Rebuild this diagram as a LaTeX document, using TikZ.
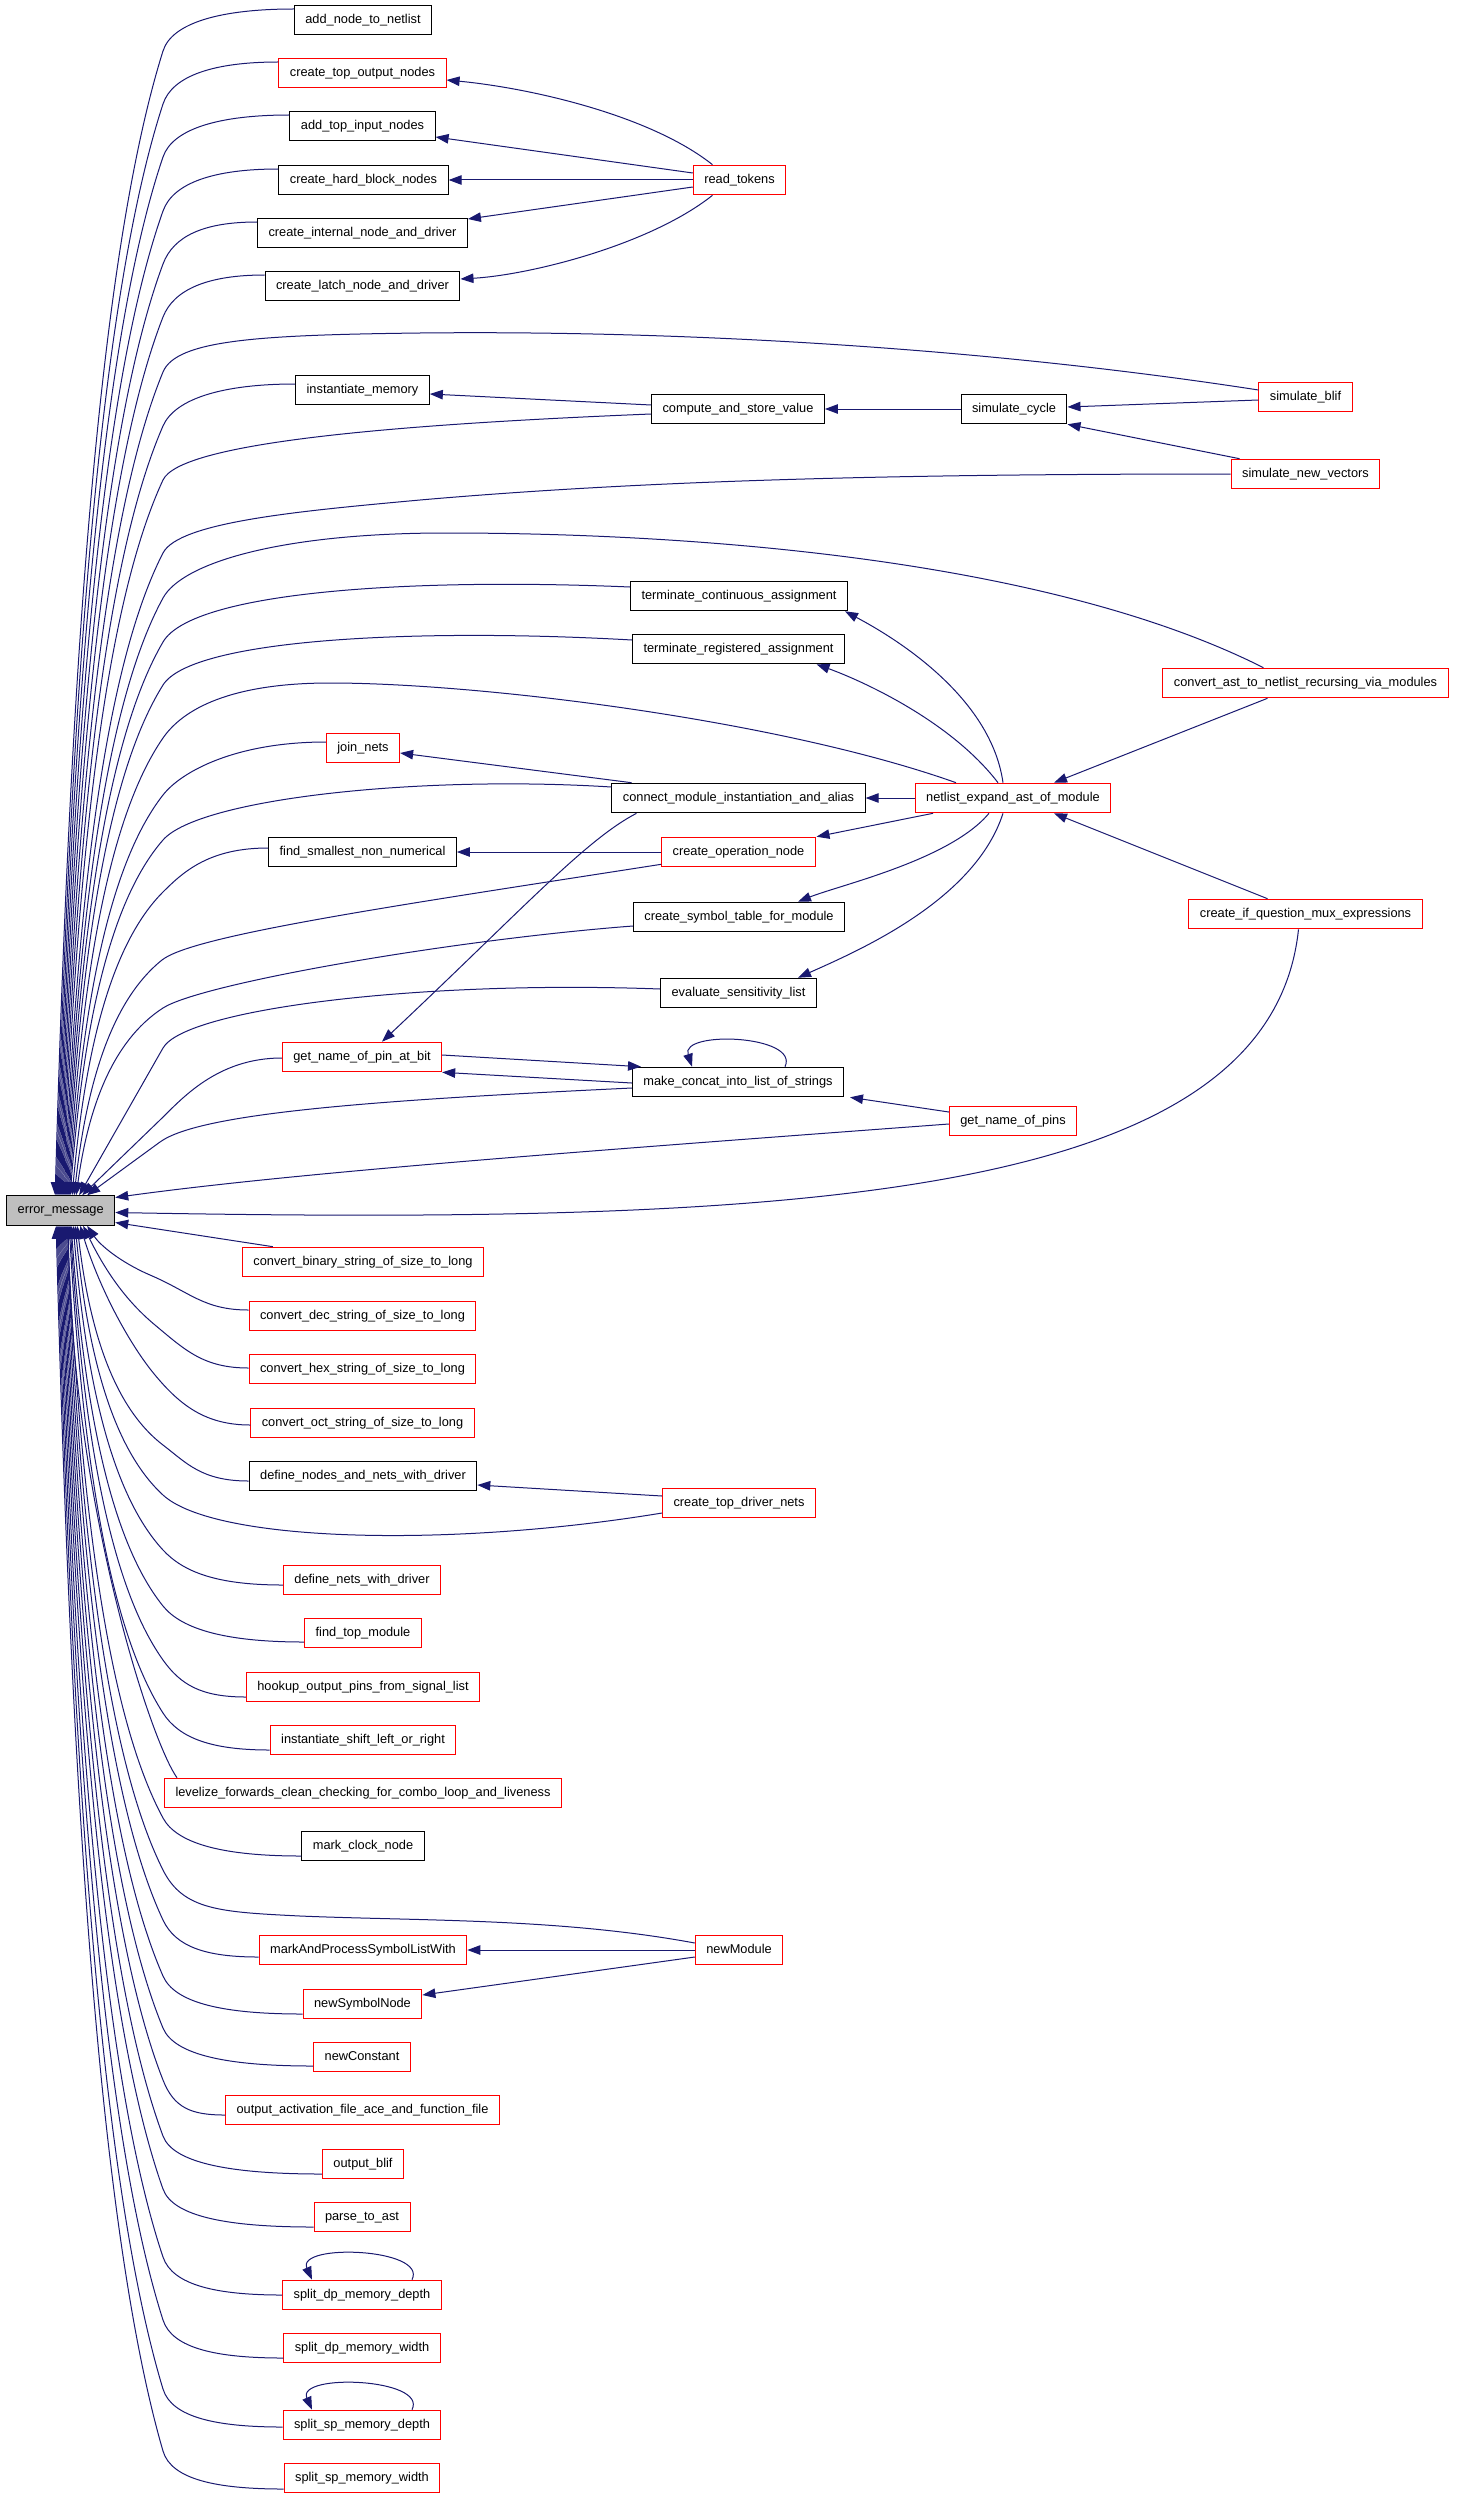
\documentclass[tikz,border=0pt]{standalone}
\usepackage{fontspec}
\setmainfont{Liberation Sans}
\usetikzlibrary{arrows.meta,calc}
\definecolor{eblue}{HTML}{191970}
\definecolor{errgray}{HTML}{BFBFBF}
% straight tail
\newcommand\ee[4]{\draw[edge] (#1) .. controls +(#2,0) and ($(#3)!-30pt!(#4)$) .. (#3) -- (#4);}
% concave tail helpers
\newcommand\prep[3]{%
  \coordinate (qB) at (#1);
  \coordinate (qE) at (#2);
  \coordinate (qM) at ($(qB)!0.3!(qE)$);
  \coordinate (qQ) at (qM -| qE);
  \coordinate (qC2) at ($(qB)!-#3!(qQ)$);
  \coordinate (qC3) at ($(qB)!0.6!(qQ)$);
  \coordinate (qX) at ($(qE |- qB)!0.3!(qB)$);
  \coordinate (qC4) at ($(qE)!0.45!(qX)$);
}
\newcommand\ef[4]{\prep{#3}{#4}{30pt}\draw[edge] (#1) .. controls +(#2,0) and (qC2) .. (qB) .. controls (qC3) and (qC4) .. (qE);}
\begin{document}
\begin{tikzpicture}[x=1pt,y=-1pt,
  fn/.style={draw=black, line width=1pt, fill=white, minimum height=29.6pt, inner xsep=11pt, inner ysep=0pt,
    font=\fontsize{12.8}{14}\selectfont, text height=9.4pt, text depth=2.6pt},
  rn/.style={fn, draw=red},
  edge/.style={draw=eblue, line width=1pt, -{Triangle[length=13pt,width=9.5pt]}},
]
\fill[white] (0,0) rectangle (1456,2499);
\useasboundingbox (0,0) rectangle (1456,2499);

% ---- nodes ----
\node[fn] (n1) at (363,20) {add\_node\_to\_netlist};
\node[rn] (n2) at (362.5,73) {create\_top\_output\_nodes};
\node[fn] (n3) at (362.5,126) {add\_top\_input\_nodes};
\node[fn] (n4) at (363.5,180) {create\_hard\_block\_nodes};
\node[fn] (n5) at (362.5,233) {create\_internal\_node\_and\_driver};
\node[fn] (n6) at (362.5,286) {create\_latch\_node\_and\_driver};
\node[fn] (n7) at (362.5,390) {instantiate\_memory};
\node[rn] (rt) at (739.5,180) {read\_tokens};
\node[fn] (cs) at (738,409) {compute\_and\_store\_value};
\node[fn] (sc) at (1014,409) {simulate\_cycle};
\node[rn] (sb) at (1305.5,397) {simulate\_blif};
\node[rn] (snv) at (1305.5,474) {simulate\_new\_vectors};
\node[fn] (tc) at (739,596) {terminate\_continuous\_assignment};
\node[fn] (tr) at (738.5,649) {terminate\_registered\_assignment};
\node[rn] (ca) at (1305.5,683) {convert\_ast\_to\_netlist\_recursing\_via\_modules};
\node[rn] (jn) at (363,748) {join\_nets};
\node[fn] (cm) at (738.5,798) {connect\_module\_instantiation\_and\_alias};
\node[rn] (ne) at (1013,798) {netlist\_expand\_ast\_of\_module};
\node[fn] (fs) at (362.5,852) {find\_smallest\_non\_numerical};
\node[rn] (co) at (738.5,852) {create\_operation\_node};
\node[fn] (cst) at (739,917) {create\_symbol\_table\_for\_module};
\node[rn] (ci) at (1305.5,914) {create\_if\_question\_mux\_expressions};
\node[fn] (ev) at (738.5,993) {evaluate\_sensitivity\_list};
\node[rn] (gp) at (362,1057) {get\_name\_of\_pin\_at\_bit};
\node[fn] (mc) at (738,1082) {make\_concat\_into\_list\_of\_strings};
\node[rn] (gnp) at (1013,1121) {get\_name\_of\_pins};
\node[fn, fill=errgray, minimum width=108pt] (err) at (60.7,1210.5) {error\_message};
\node[rn] (cb) at (363,1262) {convert\_binary\_string\_of\_size\_to\_long};
\node[rn] (cd) at (362.5,1316) {convert\_dec\_string\_of\_size\_to\_long};
\node[rn] (ch) at (362.5,1369) {convert\_hex\_string\_of\_size\_to\_long};
\node[rn] (cx) at (362.5,1423) {convert\_oct\_string\_of\_size\_to\_long};
\node[fn] (dn) at (363,1476) {define\_nodes\_and\_nets\_with\_driver};
\node[rn] (ctd) at (739,1503) {create\_top\_driver\_nets};
\node[rn] (dnw) at (362,1580) {define\_nets\_with\_driver};
\node[rn] (ft) at (363,1633) {find\_top\_module};
\node[rn] (hk) at (363,1687) {hookup\_output\_pins\_from\_signal\_list};
\node[rn] (is) at (363,1740) {instantiate\_shift\_left\_or\_right};
\node[rn] (lv) at (363,1793) {levelize\_forwards\_clean\_checking\_for\_combo\_loop\_and\_liveness};
\node[fn] (mk) at (363,1846) {mark\_clock\_node};
\node[rn] (mp) at (363,1950) {markAndProcessSymbolListWith};
\node[rn] (nm) at (739,1950) {newModule};
\node[rn] (ns) at (362.5,2004) {newSymbolNode};
\node[rn] (nc) at (362,2057) {newConstant};
\node[rn] (oa) at (362.5,2110) {output\_activation\_file\_ace\_and\_function\_file};
\node[rn] (ob) at (363,2164) {output\_blif};
\node[rn] (pa) at (362,2217) {parse\_to\_ast};
\node[rn] (sdd) at (362,2295) {split\_dp\_memory\_depth};
\node[rn] (sdw) at (362,2348) {split\_dp\_memory\_width};
\node[rn] (ssd) at (362,2425) {split\_sp\_memory\_depth};
\node[rn] (ssw) at (362,2478) {split\_sp\_memory\_width};

% ---- entry points on error_message ----
\foreach \i/\dx in {1/49,2/50,3/51,4/52,5/53,6/54,7/55,8/56,9/57,10/58,11/59,12/60,13/61,14/62,15/63,16/64,17/66,18/68,19/70,20/73,21/76,22/81}
  \coordinate (t\i) at ([xshift=\dx pt]err.north west);
\foreach \i/\dx in {1/81,2/77,3/74,4/71,5/69,6/67,7/65,8/64,9/63,10/62,11/61,12/60,13/59,14/58,15/57,16/56,17/55,18/54,19/53,20/52,21/51,22/50}
  \coordinate (b\i) at ([xshift=\dx pt]err.south west);
\coordinate (r1) at ([yshift=13pt]err.east);
\coordinate (r2) at ([yshift=-2pt]err.east);
\coordinate (r3) at ([yshift=-12pt]err.east);

% ---- edges into error_message from above ----
\ef{[yshift=11pt]n1.west}{-72}{163,51}{t1}
\ef{[yshift=11pt]n2.west}{-64}{163,104}{t2}
\ef{[yshift=11pt]n3.west}{-70}{163,157}{t3}
\ef{[yshift=11pt]n4.west}{-64}{163,211}{t4}
\ef{[yshift=11pt]n5.west}{-53}{163,264}{t5}
\ef{[yshift=11pt]n6.west}{-56}{163,317}{t6}
\prep{163,372}{t7}{35pt}
\draw[edge] ([yshift=7pt]sb.west) .. controls (1000,350) and (700,330) .. (420,333) .. controls (260,335) and (qC2) .. (qB) .. controls (qC3) and (qC4) .. (qE);
\ef{[yshift=6pt]n7.west}{-72}{163,426}{t8}
\prep{163,480}{t9}{40pt}
\draw[edge] ([yshift=-5pt]cs.west) .. controls (380,425) and (qC2) .. (qB) .. controls (qC3) and (qC4) .. (qE);
\prep{163,553}{t10}{35pt}
\draw[edge] (snv.west) .. controls (900,474) and (650,480) .. (420,500) .. controls (300,511) and (qC2) .. (qB) .. controls (qC3) and (qC4) .. (qE);
\prep{163,598}{t11}{40pt}
\draw[edge] ([xshift=-42pt]ca.north) .. controls (1050,560) and (700,533) .. (446,533) .. controls (280,533) and (qC2) .. (qB) .. controls (qC3) and (qC4) .. (qE);
\prep{163,642}{t12}{60pt}
\draw[edge] ([yshift=9pt]tc.west) .. controls (420,578) and (qC2) .. (qB) .. controls (qC3) and (qC4) .. (qE);
\prep{163,685}{t13}{55pt}
\draw[edge] ([yshift=9pt]tr.west) .. controls (420,628) and (qC2) .. (qB) .. controls (qC3) and (qC4) .. (qE);
\prep{163,738}{t14}{35pt}
\draw[edge] ([xshift=-57pt]ne.north) .. controls (780,720) and (480,683) .. (330,683) .. controls (230,683) and (qC2) .. (qB) .. controls (qC3) and (qC4) .. (qE);
\ef{[yshift=6pt]jn.west}{-90}{163,795}{t15}
\prep{163,840}{t16}{55pt}
\draw[edge] ([yshift=11pt]cm.west) .. controls (420,775) and (qC2) .. (qB) .. controls (qC3) and (qC4) .. (qE);
\ef{[yshift=4pt]fs.west}{-58}{163,892}{t17}
\prep{162,960}{t18}{40pt}
\draw[edge] ([yshift=3pt]co.south west) .. controls (400,905) and (qC2) .. (qB) .. controls (qC3) and (qC4) .. (qE);
\prep{163,1008}{t19}{45pt}
\draw[edge] ([yshift=-9pt]cst.west) .. controls (450,940) and (qC2) .. (qB) .. controls (qC3) and (qC4) .. (qE);
\draw[edge] ([yshift=4pt]ev.west) .. controls (420,980) and ($(163,1048)!-45pt!(t20)$) .. (163,1048) -- (t20);
\ee{[yshift=-1pt]gp.west}{-65}{160,1120}{t21}
\draw[edge] ([yshift=-6pt]mc.west) .. controls (380,1100) and ($(160,1142)!-50pt!(t22)$) .. (160,1142) -- (t22);

% ---- edges into error_message from the right ----
\draw[edge] ([yshift=-3pt]gnp.west) .. controls (600,1150) and (300,1172) .. (r1);
\draw[edge] ([xshift=-7pt]ci.south) .. controls (1270,1200) and (800,1225) .. (r2);
\draw[edge] ([xshift=31pt]cb.north west) -- (r3);

% ---- edges into error_message from below ----
\draw[edge] ([yshift=6pt]cd.west) .. controls +(-45,0) and (190,1292) .. (150,1275) .. controls (120,1262) and (100,1245) .. (b1);
\draw[edge] ([yshift=1pt]ch.west) .. controls +(-45,0) and (185,1350) .. (155,1325) .. controls (125,1300) and (105,1270) .. (b2);
\draw[edge] ([yshift=-2pt]cx.west) .. controls +(-45,0) and (180,1405) .. (155,1375) .. controls (130,1345) and (100,1290) .. (b3);
\ef{[yshift=-5pt]dn.west}{-47}{163,1445}{b4}
\prep{163,1495}{b5}{70pt}
\draw[edge] ([yshift=-10pt]ctd.west) .. controls (450,1548) and (qC2) .. (qB) .. controls (qC3) and (qC4) .. (qE);
\ef{[yshift=-5pt]dnw.west}{-66}{163,1550}{b6}
\ef{[yshift=-9pt]ft.west}{-78}{163,1606}{b7}
\ef{[yshift=-10pt]hk.west}{-45}{163,1660}{b8}
\ef{[yshift=-10pt]is.west}{-58}{163,1713}{b9}
\draw[edge] ([xshift=13pt]lv.north west) .. controls (150,1740) and (72,1500) .. (b10);
\ef{[yshift=-10pt]mk.west}{-76}{163,1818}{b11}
\prep{163,1870}{b12}{45pt}
\draw[edge] ([yshift=7pt]nm.west) .. controls (560,1918) and (420,1921) .. (300,1916) .. controls (220,1912) and (qC2) .. (qB) .. controls (qC3) and (qC4) .. (qE);
\ef{[yshift=-7pt]mp.west}{-52}{163,1920}{b13}
\ef{[yshift=-10pt]ns.west}{-78}{163,1976}{b14}
\ef{[yshift=-9pt]nc.west}{-83}{163,2028}{b15}
\ef{[yshift=-5pt]oa.west}{-34}{163,2080}{b16}
\ef{[yshift=-10pt]ob.west}{-87}{163,2136}{b17}
\ef{[yshift=-10pt]pa.west}{-83}{163,2189}{b18}
\ef{sdd.west}{-65}{163,2257}{b19}
\ef{[yshift=-10pt]sdw.west}{-66}{163,2320}{b20}
\ef{[yshift=-2pt]ssd.west}{-65}{163,2389}{b21}
\ef{[yshift=-11pt]ssw.west}{-66}{163,2451}{b22}

% ---- other edges ----
\draw[edge] ([xshift=-27pt]rt.north) .. controls (650,115) and (530,88) .. ([yshift=-7pt]n2.east);
\draw[edge] ([yshift=7pt]rt.west) -- ([yshift=-11pt]n3.east);
\draw[edge] (rt.west) -- (n4.east);
\draw[edge] ([yshift=-7pt]rt.west) -- ([yshift=14pt]n5.east);
\draw[edge] ([xshift=-27pt]rt.south) .. controls (650,245) and (530,275) .. ([yshift=7pt]n6.east);

\draw[edge] ([yshift=4pt]cs.west) -- ([yshift=-4pt]n7.east);
\draw[edge] (sc.west) -- (cs.east);
\draw[edge] ([yshift=-3pt]sb.west) -- ([yshift=2pt]sc.east);
\draw[edge] ([xshift=-66pt]snv.north) -- (sc.south east);

\draw[edge] ([xshift=-38pt]ca.south) -- ([xshift=41pt]ne.north);
\draw[edge] ([xshift=-38pt]ci.north) -- ([xshift=41pt]ne.south);
\draw[edge] (ne.west) -- (cm.east);
\draw[edge] ([xshift=-10pt]ne.north) .. controls (990,690) and (880,630) .. ([xshift=106pt]tc.south);
\draw[edge] ([xshift=-15pt]ne.north) .. controls (950,720) and (860,680) .. ([xshift=78pt]tr.south);
\draw[edge] ([xshift=-80pt]ne.south) -- ([xshift=78pt]co.north);
\draw[edge] ([xshift=-24pt]ne.south) .. controls (950,860) and (840,885) .. ([xshift=59pt]cst.north);
\draw[edge] ([xshift=-10pt]ne.south) .. controls (975,900) and (860,950) .. ([xshift=59.5pt]ev.north);

\draw[edge] ([xshift=-107pt]cm.north) -- ([yshift=-5pt]jn.east);
\draw[edge] ([xshift=-102pt]cm.south) .. controls (585,840) and (520,912) .. ([xshift=20pt]gp.north);
\draw[edge] (co.west) -- (fs.east);

\draw[edge] ([yshift=2pt]gp.east) -- ([xshift=-97pt]mc.north);
\draw[edge] ([yshift=-1pt]mc.west) -- (gp.south east);
\draw[edge] ([xshift=47pt]mc.north) .. controls (800,1035) and (680,1030) .. ([xshift=-46pt]mc.north);
\draw[edge] ([yshift=9pt]gnp.west) -- ([xshift=112pt]mc.south);

\draw[edge] ([yshift=7pt]ctd.west) -- ([yshift=-9pt]dn.east);
\draw[edge] (nm.west) -- (mp.east);
\draw[edge] ([yshift=-7pt]nm.west) -- ([yshift=9pt]ns.east);

\draw[edge] ([xshift=50pt]sdd.north) .. controls (428,2248) and (296,2243) .. ([xshift=-50pt]sdd.north);
\draw[edge] ([xshift=50pt]ssd.north) .. controls (428,2378) and (296,2373) .. ([xshift=-50pt]ssd.north);
\end{tikzpicture}
\end{document}
